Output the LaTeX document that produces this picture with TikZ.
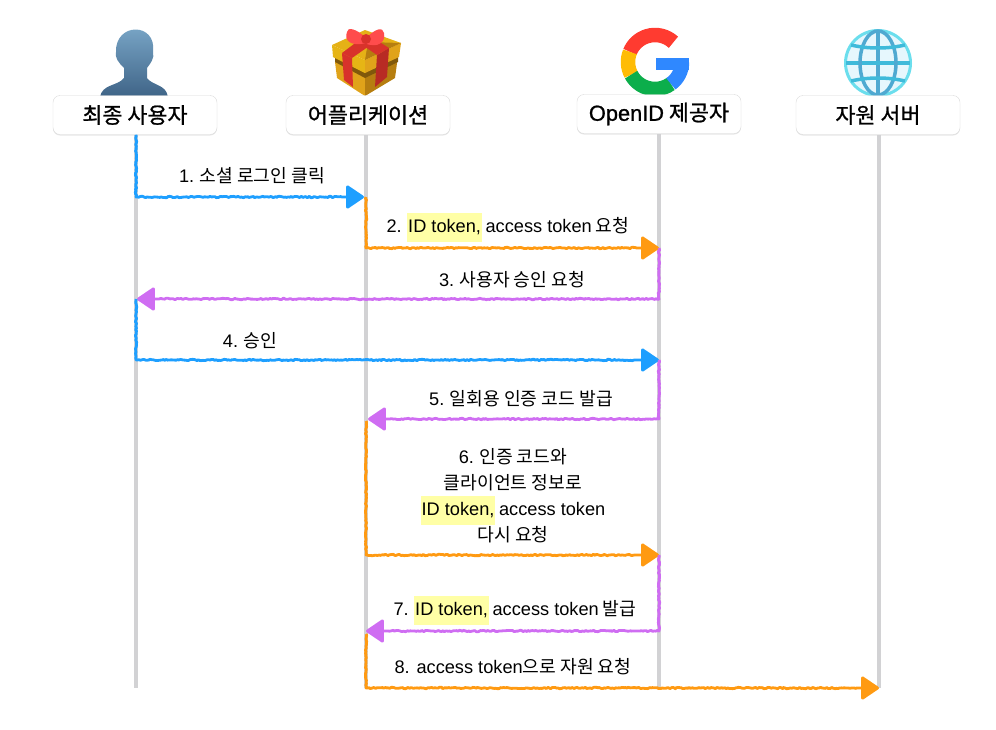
\documentclass[tikz,border=0pt]{standalone}
\usepackage{fontspec}
\setmainfont{Noto Sans CJK KR}
\newfontfamily\headfont[FakeBold=1]{Noto Sans CJK KR}
\newfontfamily\latfont{Liberation Sans}
\newfontfamily\headlatfont[FakeBold=1]{Liberation Sans}
\usetikzlibrary{arrows.meta,decorations.pathmorphing,shadows}
\definecolor{flowblue}{HTML}{1E9FFF}
\definecolor{floworange}{HTML}{FF9A12}
\definecolor{flowpurple}{HTML}{CF6DF2}
\definecolor{tokenyellow}{HTML}{FFFFA6}
\definecolor{linegray}{HTML}{D2D2D4}
\definecolor{globeblue}{HTML}{4FA9D1}
\definecolor{giftgold}{HTML}{E0A31A}
\definecolor{giftdark}{HTML}{B67E10}
\definecolor{giftred}{HTML}{D8322B}
\definecolor{userlight}{HTML}{7CA9CA}
\definecolor{userdark}{HTML}{3F6487}
\definecolor{gred}{HTML}{FF3B30}
\definecolor{gyellow}{HTML}{FFBC05}
\definecolor{ggreen}{HTML}{0CAE4B}
\definecolor{gblue}{HTML}{2F88FF}
\setlength{\fboxsep}{0pt}
\newcommand{\lat}[1]{{\latfont #1}}
\newcommand{\idtoken}{\smash{\colorbox{tokenyellow}{\rule[-9pt]{0pt}{29pt}\kern1pt\lat{ID token,}\kern0.5pt}}}
\tikzset{
    actorbox/.style={draw=black!15, fill=white, rounded corners=7pt, minimum width=164pt, minimum height=39pt, inner sep=0pt, drop shadow={shadow xshift=0pt, shadow yshift=-1pt, opacity=0.2}, font=\headfont\fontsize{21.8}{24}\selectfont},
    lifeline/.style={linegray, line width=4pt},
    flow/.style={line width=2.8pt, line join=round, decorate, decoration={random steps, segment length=1.6pt, amplitude=0.7pt, post length=22pt}, -{Triangle[length=19pt,width=25pt,round]}},
    steplabel/.style={font=\fontsize{18.2}{26}\selectfont, inner sep=0pt, align=center}
}
\begin{document}
\begin{tikzpicture}[x=1pt, y=-1pt]
    \pgfmathsetseed{7}
    \useasboundingbox (0,0) rectangle (996,729);

    % user icon
    \shade[top color=userlight, bottom color=userdark]
        (100,97) .. controls (102,84) and (118,86) .. (124,78) -- (124,68)
        .. controls (118,62) and (115,58) .. (116,52) .. controls (115,22) and (157,22) .. (153,52)
        .. controls (155,58) and (150,64) .. (147,68) -- (147,78)
        .. controls (153,86) and (166,84) .. (168,97) -- cycle;

    % gift icon
    \fill[giftgold] (335,62) -- (337,78) -- (365,96) -- (365,68) -- cycle;
    \fill[giftdark] (365,68) -- (365,96) -- (395,78) -- (398,56) -- cycle;
    \fill[giftdark!70!black] (335,57) -- (365,73) -- (398,57) -- (398,62) -- (365,78) -- (335,62) -- cycle;
    \fill[giftgold!80!yellow] (332,45) -- (333,57) -- (365,73) -- (365,60) -- cycle;
    \fill[giftgold] (365,60) -- (365,73) -- (399,57) -- (401,43) -- cycle;
    \fill[giftgold!85!yellow] (332,45) -- (365,30) -- (401,43) -- (365,60) -- cycle;
    \fill[giftdark] (368,42) -- (401,43) -- (365,60) -- cycle;
    \fill[giftred] (342,53) -- (352,58) -- (353,87) -- (344,80) -- cycle;
    \fill[giftred!85!black] (377,55) -- (389,48) -- (387,77) -- (375,87) -- cycle;
    \fill[giftred] (342,53) -- (352,58) -- (372,44) -- (362,38) -- cycle;
    \fill[giftred] (377,55) -- (389,48) -- (370,36) -- (358,42) -- cycle;
    \fill[red!70!white] (366,38) .. controls (356,28) and (347,27) .. (347,32) .. controls (344,40) and (350,47) .. (366,43) -- cycle;
    \fill[red!70!white] (366,38) .. controls (376,28) and (383,27) .. (384,33) .. controls (386,42) and (378,49) .. (364,43) -- cycle;
    \fill[giftred] (366,39) circle (5);

    % google icon
    \draw[line width=14.5pt, gred] (655,62) ++(-47:27) arc (-47:-158:27);
    \draw[line width=14.5pt, gyellow] (655,62) ++(-158:27) arc (-158:-208:27);
    \draw[line width=14.5pt, ggreen] (655,62) ++(-208:27) arc (-208:-306:27);
    \draw[line width=14.5pt, gblue] (655,62) ++(-306:27) arc (-306:-360:27);
    \fill[gblue] (656,58) rectangle (689,70);

    % globe icon
    \draw[globeblue!55!cyan!70, fill=cyan!10, line width=3pt] (878,63) circle (32.5);
    \draw[globeblue, line width=3.5pt] (878,31) -- (878,96);
    \draw[globeblue!80!cyan, line width=3.5pt] (846,63) -- (910,63);
    \draw[globeblue, line width=3.5pt] (878,63) ellipse (18 and 32);
    \draw[globeblue!80!cyan, line width=3.5pt] (851,45) .. controls (868,49) and (888,49) .. (905,45);
    \draw[globeblue!80!cyan, line width=3.5pt] (851,81) .. controls (868,77) and (888,77) .. (905,81);

    % lifelines and boxes
    \node[actorbox] (user) at (135,115) {최종 사용자};
    \node[actorbox] (app) at (368,115) {어플리케이션};
    \node[actorbox] (idp) at (659,114) {{\headlatfont OpenID} 제공자};
    \node[actorbox] (server) at (878,115) {자원 서버};

    \coordinate (userend) at (136,688);
    \coordinate (append) at (366,688);
    \coordinate (idpend) at (659,688);
    \coordinate (serverend) at (879,688);
    \draw[lifeline] (136,135) -- (userend);
    \draw[lifeline] (366,135) -- (append);
    \draw[lifeline] (659,134) -- (idpend);
    \draw[lifeline] (879,135) -- (serverend);

    \coordinate (appA) at (364,197);
    \coordinate (appAs) at (366,197);
    \coordinate (idpB) at (659,248);
    \coordinate (userC) at (137,299);
    \coordinate (idpD) at (659,360);
    \coordinate (userDs) at (136,299);
    \coordinate (appE) at (368,419);
    \coordinate (appFs) at (366,421);
    \coordinate (idpF) at (659,555);
    \coordinate (appG) at (366,631);
    \coordinate (appHs) at (366,634);

    \draw[flow, flowblue] (user.south -| userend) |- (appA);
    \draw[flow, floworange] (appAs) |- (idpB);
    \draw[flow, flowpurple] (idpB) |- (userC);
    \draw[flow, flowblue] (userDs) |- (idpD);
    \draw[flow, flowpurple] (idpD) |- (appE);
    \draw[flow, floworange] (appFs) |- (idpF);
    \draw[flow, flowpurple] (idpF) |- (appG);
    \draw[flow, floworange] (appHs) |- (serverend);

    \node[steplabel] (one) at (252,176) {\lat{1.} 소셜 로그인 클릭};
    \node[steplabel] (two) at (508,226) {\lat{2.} \idtoken\ \lat{access token} 요청};
    \node[steplabel] (three) at (512,280) {\lat{3.} 사용자 승인 요청};
    \node[steplabel] (four) at (250,341) {\lat{4.} 승인};
    \node[steplabel] (five) at (521,399) {\lat{5.} 일회용 인증 코드 발급};
    \node[steplabel] (six) at (513,496) {\lat{6.} 인증 코드와\\클라이언트 정보로\\\idtoken\ \lat{access token}\\다시 요청};
    \node[steplabel] (seven) at (515,609) {\lat{7.} \idtoken\ \lat{access token} 발급};
    \node[steplabel] (eight) at (513,667) {\lat{8. access token}으로 자원 요청};
\end{tikzpicture}
\end{document}
